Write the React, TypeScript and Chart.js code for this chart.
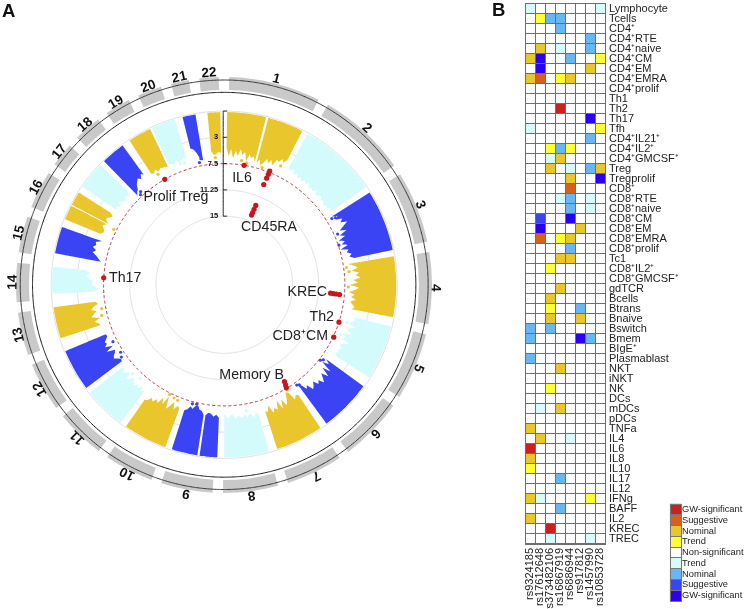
import React, { useEffect, useRef } from "react";
import { Chart, registerables } from "chart.js";

Chart.register(...registerables);

const FONT = '"Liberation Sans", Arial, sans-serif';

/* ---------- Panel A data ---------- */
const chromNames = ["1","2","3","4","5","6","7","8","9","10","11","12","13","14","15","16","17","18","19","20","21","22"];
// angular share of every chromosome on the circle (degrees)
const chromSpanDeg = [28.5,27.9,23,22.9,21.7,20.8,18.7,18.2,17.3,16.6,16.7,16.6,14.9,13.8,13,13.4,9.6,10.6,10,9.6,7.9,8.3];

const GOLD = "#E8C62C", CYAN = "#D3FBFB", BLUE = "#3B44F5";
// inner envelope of -log10(p) for each plotted chromosome arm
const chr1a = [5.2,6.4,5.4,6.7,5.6,6.3,5.3,6.1,5.6,6.9,5.8,6.3,6.0,6.8];
const chr1b = [6.8,6.2,7.0,6.5,5.8,6.3,5.7,6.4,5.4,5.6,5.0,5.4,4.8];
const chr2 = [5.6,6.0,5.5,6.2,5.8,6.3,5.9,6.4,6.0,6.3,5.8,6.5,6.1,6.4,5.9,6.6,6.2,6.0,6.5,6.2,6.7,6.3,6.5,6.0,6.4];
const chr3 = [6.6,5.8,6.3,5.4,5.9,5.0,5.8,6.5,5.6,6.8,6.1,7.2,6.4,7.0,6.2,7.4,6.3,6.6,6.0,6.4,5.8];
const chr4 = [6.8,6.0,5.5,6.4,5.4,5.9,5.2,6.2,5.6,6.8,5.4,6.0,6.9,6.0,6.5,5.8,6.6,6.2,5.8,6.2];
const chr5 = [5.8,5.2,5.6,6.2,5.0,5.8,6.0,5.2,6.4,5.8,6.2,5.0,5.8,6.2,5.6,6.0,5.8,6.2,5.6];
const chr6 = [6.7,6.0,6.9,5.2,6.4,5.0,6.0,5.4,4.8,5.6,5.2,6.0,5.5,5.2,6.2,5.8,6.7,6.9];
const chr7 = [5.8,6.0,5.5,6.9,7.1,6.0,5.4,6.5,5.2,6.6,5.4,5.8,5.2,6.4,5.6,5.8];
const chr8 = [5.6,6.0,5.4,5.8,6.1,5.5,6.2,5.6,5.8,6.0,5.5,6.1,6.3,5.7,6.0,6.3];
const chr9a = [5.8,6.2,5.9,6.3,6.4,6.0];
const chr9b = [6.0,6.5,6.6,7.2,7.0,6.5,6.8,6.2,6.0];
const chr10 = [6.0,6.3,5.6,6.6,5.8,5.2,7.0,5.6,6.4,5.4,5.8,5.2,5.6,5.0,4.8];
const chr11 = [5.8,5.5,6.2,5.5,6.0,5.4,5.8,6.3,5.8,5.4,6.4,6.0,5.6,6.2,6.0];
const chr12 = [6.5,6.6,6.3,5.8,6.0,6.4,6.6,5.4,6.6,5.5,6.0,5.8,6.2,6.5,6.4];
const chr13 = [6.2,6.0,5.5,6.4,5.2,5.6,6.1,5.4,5.8,6.5,6.2];
const chr14 = [6.0,6.8,6.2,5.8,6.0,5.4,5.0,5.5,4.8];
const chr15 = [6.8,6.4,6.0,5.4,5.8,5.2,5.6,5.4,6.2];
const chr16a = [5.6,6.0,5.8,5.4,5.9];
const chr16b = [6.0,5.6,5.4,5.8,6.1,5.5];
const chr17 = [6.0,5.8,6.2,5.6,6.0,6.3,5.8,6.2,5.6];
const chr18 = [7.0,6.6,6.4,5.8,5.5,5.2,5.6,5.0,5.3];
const chr19 = [5.8,6.0,5.6,6.1,5.8,5.9,6.0,6.1];
const chr20 = [5.8,6.0,6.2,5.6,6.2,6.0,5.8,6.2];
const chr21 = [4.8,5.0,5.6,6.6,6.8];
const chr22 = [5.6,6.2,6.1,5.8,6.0];

// [first degree, last degree] of the plotted arms
const armFrom = [1,14.9,29,57.7,80.5,104,126,146,165,182.3,189,200,217,233.3,252,267,280.5,292.3,297.6,304.6,315.7,326.6,335.2,346,354.4];
const armTo = [14.1,27,55.6,78.4,100.8,122.5,143.5,162,180,188.2,197.7,214.8,231.2,247.4,262.5,276,289.5,297.2,302.3,314,323.8,334.5,343.3,350.4,358.7];
const armValues = [chr1a,chr1b,chr2,chr3,chr4,chr5,chr6,chr7,chr8,chr9a,chr9b,chr10,chr11,chr12,chr13,chr14,chr15,chr16a,chr16b,chr17,chr18,chr19,chr20,chr21,chr22];
const armColors = [GOLD,GOLD,CYAN,BLUE,GOLD,CYAN,BLUE,GOLD,CYAN,BLUE,BLUE,GOLD,CYAN,BLUE,GOLD,CYAN,BLUE,GOLD,GOLD,CYAN,BLUE,GOLD,CYAN,BLUE,GOLD];

// isolated SNP dots: degree, -log10(p)
const goldDotDeg = [8,10.5,18,25.5,82,84,91,149,148,204,206.5,202,256,259,296.5,329,356];
const goldDotP = [6.9,7.1,7.2,6,7.1,6.8,7,7.3,7.5,7.1,7.3,7,6.7,6.9,7.1,6.4,6.6];
const blueDotDeg = [58.5,59,66,71,127,128,144,143,193,195,235,237,243,317,318,348.5,349.5];
const blueDotP = [6.7,6.2,7,7.4,7,7.3,7.1,6.9,7.3,7.2,6.8,7.1,6.9,7.2,6.9,7,6.5];
const cyanDotDeg = [107,113,170,222,226,340,342];
const cyanDotP = [6.4,6.6,6.5,6.8,6.5,6.4,6.5];

// genome-wide significant hits
const hitDeg = [330.5,9.5,21.9,21.85,21.8,21.6,21.8,21.7,21.6,21.5,94.8,94.7,94.6,94.5,108,115.5,148.8,148.4,148,273.3];
const hitP = [7.5,7.5,7.3,7.8,8.4,9.4,12.6,13.2,13.7,14.1,8.2,8.7,9.1,9.5,7.5,7.4,7.6,8,8.5,7.5];
const hitLabels = ["Prolif Treg","IL6","CD45RA","KREC","Th2","CD8\u207ACM","Memory B","Th17"];
const gridLevels = [0,3.75,11.25,15];
const thresholdLevel = 7.5;
const axisLevels = [0,3.75,7.5,11.25,15];
const axisLabels = ["","3","7.5","11.25","15"];

/* ---------- Panel B data ---------- */
const rowLabels = ["Lymphocyte","Tcells","CD4\u207A","CD4\u207ARTE","CD4\u207Anaive","CD4\u207ACM","CD4\u207AEM","CD4\u207AEMRA","CD4\u207Aprolif","Th1","Th2","Th17","Tfh","CD4\u207AIL21\u207A","CD4\u207AIL2\u207A","CD4\u207AGMCSF\u207A","Treg","Tregprolif","CD8\u207A","CD8\u207ARTE","CD8\u207Anaive","CD8\u207ACM","CD8\u207AEM","CD8\u207AEMRA","CD8\u207Aprolif","Tc1","CD8\u207AIL2\u207A","CD8\u207AGMCSF\u207A","gdTCR","Bcells","Btrans","Bnaive","Bswitch","Bmem","BIgE\u207A","Plasmablast","NKT","iNKT","NK","DCs","mDCs","pDCs","TNFa","IL4","IL6","IL8","IL10","IL17","IL12","IFNg","BAFF","IL2","KREC","TREC"];
const snpLabels = ["rs9324185","rs17612648","rs373482106","rs16867919","rs6886944","rs917812","rs1457990","rs10853728"];
const rs9324185 =   [-1,0,0,0,0,2,0,2,0,0,0,0,-1,0,0,0,0,0, 0,0,0,0,0,0,0,0,0,0,0,0,0,0,-2,-2,0,-2,0,0,0,0,0,0,2,0,4,2,1,0,0,2,0,2,0,0];
const rs17612648 =  [0,1,0,0,2,-4,-4,3,0,0,0,0,0,0,0,0,0,0, 0,0,0,-3,-4,3,0,0,0,0,0,0,0,0,0,0,0,0,0,0,0,0,-1,0,0,2,0,0,0,0,0,-1,0,0,0,0];
const rs373482106 = [0,-2,0,0,0,0,0,0,0,0,0,0,0,0,1,-1,2,0, 0,0,0,0,0,0,0,0,1,0,0,2,1,2,-2,0,0,0,0,0,1,0,0,0,0,0,0,0,0,0,0,0,0,0,4,-1];
const rs16867919 =  [0,-2,-2,0,-1,0,0,1,0,0,4,0,0,0,-2,2,0,0, 0,-1,0,0,0,1,0,2,0,0,2,0,0,0,0,0,0,0,2,0,0,0,2,0,0,0,0,0,0,-2,0,0,-2,0,0,0];
const rs6886944 =   [0,0,0,0,0,-2,0,2,0,0,0,0,0,0,1,0,-1,2, 3,-2,-2,-4,0,2,-2,2,0,0,0,0,0,0,0,0,0,0,0,0,0,0,0,0,0,-1,0,0,0,0,0,0,0,0,0,0];
const rs917812 =    [0,0,0,0,0,0,0,0,0,0,0,0,0,0,0,0,0,0, 0,0,0,0,2,0,0,0,0,0,0,0,-2,2,0,-4,0,0,0,0,0,0,0,0,0,0,0,0,0,0,0,0,0,0,0,0];
const rs1457990 =   [0,0,0,-2,-2,0,2,0,0,0,0,-4,0,-2,0,0,-2,0, 0,-1,-1,0,0,0,0,0,0,0,0,0,0,0,0,-2,0,0,0,0,0,0,0,0,0,0,0,0,0,0,0,1,0,0,0,-1];
const rs10853728 =  [-1,0,0,0,0,1,0,0,0,0,0,0,1,0,0,0,2,-4, 0,0,0,0,0,0,0,0,0,0,0,0,0,0,0,0,0,0,0,0,0,0,0,0,0,0,0,0,0,0,0,0,0,0,0,0];
const snpColumns = [rs9324185,rs17612648,rs373482106,rs16867919,rs6886944,rs917812,rs1457990,rs10853728];

const legendLabels = ["GW-significant","Suggestive","Nominal","Trend","Non-significant","Trend","Nominal","Suggestive","GW-significant"];
const legendLevels = [4,3,2,1,0,-1,-2,-3,-4];
const levelColor = (v: number) => (({
  "4": "#CC1F1F", "3": "#D6601C", "2": "#E8C62C", "1": "#FFFF33", "0": "#FFFFFF",
  "-1": "#D5FBFB", "-2": "#69B6F5", "-3": "#3B44F5", "-4": "#2A00F5",
}) as Record<string, string>)[String(v)];

/* ---------- geometry of panel A ---------- */
const CX = 224, CY = 284.5, SIZE_W = 470, SIZE_H = 609;
const R0 = 176, PER_UNIT = 7.1, RING_OUT = 208, RING_IN = 195, GAP = 2.9;
const radius = (p: number) => R0 - PER_UNIT * p;
const polar = (deg: number, r: number) => {
  const a = (deg * Math.PI) / 180;
  return { x: r * Math.sin(a), y: r * Math.cos(a) };
};
const circle = (r: number) => {
  const pts = [];
  for (let d = 0; d <= 360; d += 2) pts.push(polar(d, r));
  return pts;
};
const armShape = (from: number, to: number, vals: number[]) => {
  const pts = [];
  for (let d = from; d < to; d += 1) pts.push(polar(d, R0 - 1));
  pts.push(polar(to, R0 - 1));
  for (let i = vals.length - 1; i >= 0; i--) {
    const d = from + ((to - from) * i) / (vals.length - 1);
    pts.push(polar(d, radius(vals[i])));
  }
  return pts;
};
const dots = (deg: number[], p: number[]) => deg.map((d, i) => polar(d, radius(p[i])));

const chromMid = () => {
  let acc = 0;
  return chromSpanDeg.map((s) => {
    const m = acc + s / 2;
    acc += s;
    return m;
  });
};

const textPlugin = {
  id: "circleText",
  afterDatasetsDraw(chart: any) {
    const ctx = chart.ctx;
    const sx = chart.scales.x, sy = chart.scales.y;
    ctx.save();
    ctx.textAlign = "center";
    ctx.textBaseline = "middle";
    ctx.fillStyle = "#111";
    ctx.font = `bold 13.5px ${FONT}`;
    chromMid().forEach((m, i) => {
      const p = polar(m, 215);
      ctx.save();
      ctx.translate(sx.getPixelForValue(p.x), sy.getPixelForValue(p.y));
      ctx.rotate((m * Math.PI) / 180);
      ctx.fillText(chromNames[i], 0, 0);
      ctx.restore();
    });
    // axis tick labels
    ctx.font = `bold 7.5px ${FONT}`;
    ctx.textAlign = "right";
    axisLevels.forEach((lv, i) => {
      ctx.fillText(axisLabels[i], sx.getPixelForValue(-6), sy.getPixelForValue(radius(lv)));
    });
    // hit names
    const spots: [number, number, CanvasTextAlign][] = [
      [176, 197, "center"], [242, 178, "center"], [269, 227, "center"], [327, 292, "right"],
      [334, 317, "right"], [328, 336, "right"], [284, 375, "right"], [109, 278, "left"],
    ];
    ctx.font = `14.2px ${FONT}`;
    ctx.fillStyle = "#222";
    hitLabels.forEach((t, i) => {
      ctx.textAlign = spots[i][2];
      ctx.fillText(t, spots[i][0], spots[i][1]);
    });
    ctx.restore();
  },
};

function useChart(build: (c: HTMLCanvasElement) => Chart) {
  const ref = useRef<HTMLCanvasElement>(null);
  useEffect(() => {
    const ch = build(ref.current as HTMLCanvasElement);
    return () => ch.destroy();
  }, []);
  return ref;
}

const abs = (left: number, top: number): React.CSSProperties => ({ position: "absolute", left, top, display: "block" });

export default function App() {
  const ringRef = useChart((c) => {
    const data: number[] = [];
    const colors: string[] = [];
    chromSpanDeg.forEach((s) => {
      data.push(GAP / 2, s - GAP, GAP / 2);
      colors.push("rgba(0,0,0,0)", "#C9C9C9", "rgba(0,0,0,0)");
    });
    return new Chart(c, {
      type: "doughnut",
      data: { labels: data.map((_, i) => String(i)), datasets: [{ data, backgroundColor: colors, borderWidth: 0 }] },
      options: {
        responsive: false, animation: false, devicePixelRatio: 1,
        cutout: `${(RING_IN / RING_OUT) * 100}%`,
        layout: { padding: 0 },
        plugins: { legend: { display: false }, tooltip: { enabled: false } },
      },
    } as any);
  });

  const circleRef = useChart((c) => {
    // a tiny tension keeps Chart.js from merging points that share a pixel column
    const base = { showLine: true, pointRadius: 0, pointHitRadius: 0, borderWidth: 1, tension: 0.001 };
    const axisPts: any[] = [{ x: -1, y: radius(0) }, { x: -1, y: radius(15) }];
    axisLevels.forEach((lv) => {
      axisPts.push({ x: NaN, y: NaN }, { x: -1, y: radius(lv) }, { x: 3, y: radius(lv) });
    });
    const datasets: any[] = [
      ...gridLevels.map((lv) => ({ ...base, data: circle(radius(lv)), borderColor: "#DEDEDE", order: 9 })),
      { ...base, data: circle(RING_OUT - 0.5), borderColor: "#333", order: 9 },
      { ...base, data: circle(RING_IN), borderColor: "#111", order: 9 },
      ...armValues.map((vals, i) => ({
        ...base, borderWidth: 0, data: armShape(armFrom[i], armTo[i], vals),
        fill: "shape", backgroundColor: armColors[i], order: 5,
      })),
      { data: dots(goldDotDeg, goldDotP), pointRadius: 1.6, pointBorderWidth: 0, pointBackgroundColor: GOLD, order: 4 },
      { data: dots(blueDotDeg, blueDotP), pointRadius: 1.6, pointBorderWidth: 0, pointBackgroundColor: BLUE, order: 4 },
      { data: dots(cyanDotDeg, cyanDotP), pointRadius: 1.6, pointBorderWidth: 0, pointBackgroundColor: CYAN, order: 4 },
      { ...base, data: circle(radius(thresholdLevel)), borderColor: "#B0303A", borderDash: [3, 2.4], order: 3 },
      { ...base, data: axisPts, borderColor: "#222", order: 2, spanGaps: false },
      { data: dots(hitDeg, hitP), pointRadius: 2.6, pointBorderWidth: 0, pointBackgroundColor: "#C8161D", order: 1 },
    ];
    return new Chart(c, {
      type: "scatter",
      data: { datasets },
      options: {
        responsive: false, animation: false, devicePixelRatio: 1,
        layout: { padding: 0 },
        scales: {
          x: { type: "linear", display: false, min: -CX, max: SIZE_W - CX },
          y: { type: "linear", display: false, min: CY - SIZE_H, max: CY },
        },
        plugins: { legend: { display: false }, tooltip: { enabled: false } },
      },
      plugins: [textPlugin],
    } as any);
  });

  const heatRef = useChart((c) => {
    const datasets = snpColumns.map((col, j) => ({
      data: col.map((_, i) => ({ x: snpLabels[j], y: rowLabels[i] })),
      pointStyle: "rect", pointRadius: 7.15, pointBorderWidth: 0,
      pointBackgroundColor: col.map(levelColor),
    }));
    return new Chart(c, {
      type: "scatter",
      data: { datasets },
      options: {
        responsive: false, animation: false, devicePixelRatio: 1,
        layout: { padding: { left: 35, top: 1, right: 0, bottom: 0 } },
        scales: {
          x: {
            type: "category", labels: snpLabels, offset: true, position: "bottom",
            grid: { offset: true, color: "#6E6E6E", z: 1, drawTicks: false },
            border: { color: "#6E6E6E", z: 1 },
            ticks: { autoSkip: false, maxRotation: 90, minRotation: 90, padding: 4, color: "#222", font: { family: FONT, size: 11 } },
            afterFit: (s: any) => { s.height = 65; },
          },
          y: {
            type: "category", labels: rowLabels, offset: true, position: "right",
            grid: { offset: true, color: "#6E6E6E", z: 1, drawTicks: false },
            border: { color: "#6E6E6E", z: 1 },
            ticks: { autoSkip: false, padding: 4, color: "#222", font: { family: FONT, size: 11 } },
            afterFit: (s: any) => { s.width = 139; },
          },
        },
        plugins: { legend: { display: false }, tooltip: { enabled: false } },
      },
    } as any);
  });

  const legendRef = useChart((c) => new Chart(c, {
    type: "scatter",
    data: {
      datasets: [{
        data: legendLabels.map((l) => ({ x: "key", y: l })),
        pointStyle: "rect", pointRadius: 7.9, pointBorderWidth: 0,
        pointBackgroundColor: legendLevels.map(levelColor),
      }],
    },
    options: {
      responsive: false, animation: false, devicePixelRatio: 1,
      layout: { padding: { left: 10, top: 9, right: 0, bottom: 2 } },
      scales: {
        x: {
          type: "category", labels: ["key"], offset: true,
          grid: { offset: true, color: "#777", z: 1, drawTicks: false },
          border: { color: "#777", z: 1 },
          ticks: { display: false },
          afterFit: (s: any) => { s.height = 0; },
        },
        y: {
          type: "category", labels: legendLabels, offset: true, position: "right",
          grid: { offset: true, color: "#777", z: 1, drawTicks: false },
          border: { color: "#777", z: 1 },
          ticks: { autoSkip: false, padding: 1, color: "#222", font: { family: FONT, size: 9.3 } },
          afterFit: (s: any) => { s.width = 63; },
        },
      },
      plugins: { legend: { display: false }, tooltip: { enabled: false } },
    },
  } as any));

  const panel: React.CSSProperties = { position: "absolute", font: `bold 18.5px ${FONT}`, color: "#111", lineHeight: "20px" };
  return (
    <div>
      <canvas ref={ringRef} width={416} height={416} style={abs(CX - RING_OUT, CY - RING_OUT)} />
      <canvas ref={circleRef} width={SIZE_W} height={SIZE_H} style={abs(0, 0)} />
      <canvas ref={heatRef} width={254} height={616} style={abs(490, -7)} />
      <canvas ref={legendRef} width={84} height={114} style={abs(660, 495)} />
      <div style={{ ...panel, left: 2, top: 1 }}>A</div>
      <div style={{ ...panel, left: 492, top: 0 }}>B</div>
    </div>
  );
}
